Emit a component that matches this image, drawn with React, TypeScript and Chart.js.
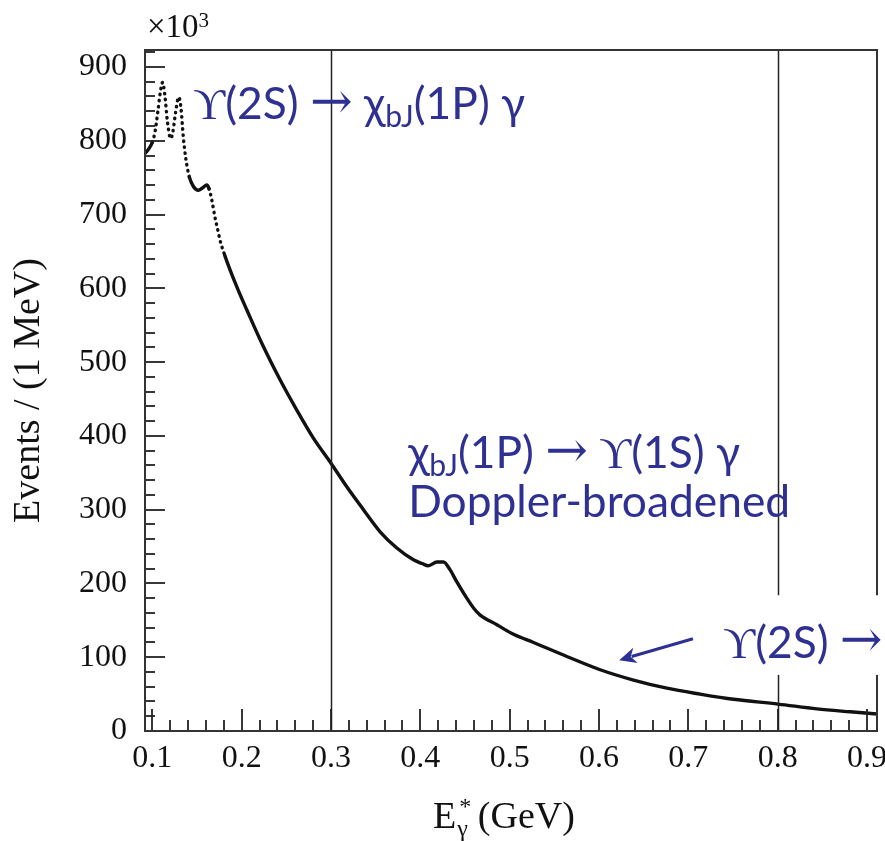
import React, { useEffect, useRef } from "react";
import { Chart, registerables } from "chart.js";

Chart.register(...registerables);

// ---- data ----
const energyGeV = [
  0.092, 0.096, 0.1, 0.103, 0.106, 0.109, 0.1115, 0.114, 0.117, 0.1205,
  0.123, 0.126, 0.1295, 0.132, 0.1347, 0.1377, 0.1414, 0.146, 0.1515, 0.156,
  0.161, 0.1635, 0.1665, 0.17, 0.174, 0.1758, 0.181, 0.187, 0.196, 0.2057,
  0.2243, 0.243, 0.2617, 0.2803, 0.3, 0.3177, 0.3363, 0.355, 0.3737, 0.3923,
  0.402, 0.409, 0.4185, 0.426, 0.433, 0.4409, 0.452, 0.46, 0.467, 0.4857,
  0.5043, 0.5267, 0.564, 0.6013, 0.6386, 0.676, 0.7133, 0.7506, 0.8003, 0.844,
  0.8813, 0.9112,
];
const eventsThousands = [
  783, 789, 798, 812, 838, 866, 879, 862, 825, 803,
  812, 838, 859, 845, 805, 774, 751, 738, 733, 736,
  740, 735, 720, 697, 675, 665, 645, 625, 598, 571,
  521, 476, 435, 397, 363, 331, 300, 270, 248, 232,
  227, 224, 229, 229, 219, 202, 180, 166, 157, 144,
  131, 120, 101, 83, 69, 58, 50, 43, 36.5, 30,
  26, 23,
];
const xMin = 0.0918;
const xMax = 0.9112;
const yMin = 0;
const yMax = 923;
const xMajorStep = 0.1;
const xMinorStep = 0.02;
const yMajorStep = 100;
const yMinorStep = 20;
const markerEnergies = [0.3, 0.8];

const xTitleMain = "E";
const xTitleSup = "*";
const xTitleSub = "γ";
const xTitleUnit = "(GeV)";
const yTitle = "Events / (1 MeV)";
const multiplierBase = "×10";
const multiplierExp = "3";

type Part = { t: string; serif?: boolean; arrow?: boolean; sub?: boolean };
const annotation1: Part[] = [
  { t: "ϒ", serif: true }, { t: "(2S) " }, { t: "→", arrow: true }, { t: " " },
  { t: "χ" }, { t: "bJ", sub: true }, { t: "(1P) " }, { t: "γ" },
];
const annotation2: Part[] = [
  { t: "χ" }, { t: "bJ", sub: true }, { t: "(1P) " }, { t: "→", arrow: true }, { t: " " },
  { t: "ϒ", serif: true }, { t: "(1S) " }, { t: "γ" },
];
const annotation3: Part[] = [{ t: "Doppler-broadened" }];
const annotation4: Part[] = [{ t: "ϒ", serif: true }, { t: "(2S) " }, { t: "→", arrow: true }];
// anchor positions in data coordinates [energy, events]
const annotation1At = [0.1458, 829];
const annotation2At = [0.3864, 356];
const annotation3At = [0.3864, 290];
const annotation4At = [0.739, 99];
const pointerFrom = [0.7052, 125];
const pointerTo = [0.6226, 96];
const maskBox = [0.7245, 76, 184]; // left energy, bottom events, top events

const BLUE = "#2E3192";
const SANS = "Lato, 'Open Sans', 'Noto Sans', sans-serif";
const SERIF = "'Liberation Serif', 'DejaVu Serif', serif";
const ARROWFONT = "'DejaVu Serif', serif";

function partFont(p: Part, size: number) {
  const s = p.sub ? size * 0.68 : p.arrow ? size * 1.15 : size;
  const fam = p.arrow ? ARROWFONT : p.serif ? SERIF : SANS;
  return `${s}px ${fam}`;
}

function drawParts(ctx: CanvasRenderingContext2D, parts: Part[], x: number, base: number, size: number) {
  let cx = x;
  for (const p of parts) {
    ctx.font = partFont(p, size);
    const by = p.sub ? base + size * 0.17 : p.arrow ? base - size * 0.04 : base;
    ctx.fillText(p.t, cx, by);
    cx += ctx.measureText(p.t).width;
  }
}

function drawAxesDecor(chart: any) {
  const { ctx, chartArea: a, scales } = chart;
  const xs = scales.x;
  const ys = scales.y;
  ctx.save();
  ctx.setLineDash([]);
  ctx.lineCap = "butt";
  ctx.strokeStyle = "#222";
  ctx.lineWidth = 1.5;
  for (const e of markerEnergies) {
    const px = Math.round(xs.getPixelForValue(e)) + 0.5;
    ctx.beginPath();
    ctx.moveTo(px, a.top);
    ctx.lineTo(px, a.bottom);
    ctx.stroke();
  }
  ctx.lineWidth = 1.8;
  const nx = Math.round(xMajorStep / xMinorStep);
  const i0 = Math.ceil(xMin / xMinorStep - 1e-6);
  const i1 = Math.floor(xMax / xMinorStep + 1e-6);
  for (let i = i0; i <= i1; i++) {
    const px = Math.round(xs.getPixelForValue(i * xMinorStep));
    const len = i % nx === 0 ? 22 : 11;
    ctx.beginPath();
    ctx.moveTo(px, a.bottom);
    ctx.lineTo(px, a.bottom - len);
    ctx.stroke();
  }
  const ny = Math.round(yMajorStep / yMinorStep);
  const j1 = Math.floor(yMax / yMinorStep);
  for (let j = Math.ceil(yMin / yMinorStep); j <= j1; j++) {
    const py = Math.round(ys.getPixelForValue(j * yMinorStep));
    const len = j % ny === 0 ? 20 : 10;
    ctx.beginPath();
    ctx.moveTo(a.left, py);
    ctx.lineTo(a.left + len, py);
    ctx.stroke();
  }
  ctx.lineWidth = 2;
  ctx.strokeStyle = "#333";
  ctx.strokeRect(a.left, a.top, a.right - a.left, a.bottom - a.top);
  ctx.restore();
}

const decor = {
  id: "decor",
  afterDraw(chart: any) {
    drawAxesDecor(chart);
    const { ctx, chartArea: a, scales, width } = chart;
    const xs = scales.x;
    const ys = scales.y;
    const X = (e: number) => xs.getPixelForValue(e);
    const Y = (v: number) => ys.getPixelForValue(v);
    ctx.save();
    ctx.setLineDash([]);
    // white mask behind the lower-right label
    ctx.fillStyle = "#fff";
    const bl = X(maskBox[0]);
    ctx.fillRect(bl, Y(maskBox[2]), width - bl, Y(maskBox[1]) - Y(maskBox[2]));

    // annotation font size fitted to "Doppler-broadened"
    ctx.font = `100px ${SANS}`;
    const size = Math.min(60, (100 * 382) / ctx.measureText(annotation3[0].t).width);
    ctx.fillStyle = BLUE;
    ctx.textBaseline = "alphabetic";
    ctx.textAlign = "left";
    drawParts(ctx, annotation1, X(annotation1At[0]), Y(annotation1At[1]), size);
    drawParts(ctx, annotation2, X(annotation2At[0]), Y(annotation2At[1]), size);
    drawParts(ctx, annotation3, X(annotation3At[0]), Y(annotation3At[1]), size);
    drawParts(ctx, annotation4, X(annotation4At[0]), Y(annotation4At[1]), size);

    // pointer arrow
    const x0 = X(pointerFrom[0]), y0 = Y(pointerFrom[1]);
    const x1 = X(pointerTo[0]), y1 = Y(pointerTo[1]);
    const ang = Math.atan2(y1 - y0, x1 - x0);
    const headL = 17, headW = 8;
    const bx = x1 - headL * Math.cos(ang), by = y1 - headL * Math.sin(ang);
    ctx.strokeStyle = BLUE;
    ctx.lineWidth = 3;
    ctx.beginPath();
    ctx.moveTo(x0, y0);
    ctx.lineTo(bx + 4 * Math.cos(ang), by + 4 * Math.sin(ang));
    ctx.stroke();
    ctx.beginPath();
    ctx.moveTo(x1, y1);
    ctx.lineTo(bx + headW * Math.sin(ang), by - headW * Math.cos(ang));
    ctx.lineTo(bx + 5 * Math.cos(ang), by + 5 * Math.sin(ang));
    ctx.lineTo(bx - headW * Math.sin(ang), by + headW * Math.cos(ang));
    ctx.closePath();
    ctx.fillStyle = BLUE;
    ctx.fill();

    // x10^3 multiplier
    ctx.fillStyle = "#111";
    ctx.font = `33px ${SERIF}`;
    ctx.fillText(multiplierBase, a.left + 2, 37);
    const mw = ctx.measureText(multiplierBase).width;
    ctx.font = `21px ${SERIF}`;
    ctx.fillText(multiplierExp, a.left + 2 + mw, 27);

    // x-axis title with super/subscript
    const base = 828;
    let cx = (a.left + a.right) / 2 - 78;
    ctx.font = `38px ${SERIF}`;
    ctx.fillText(xTitleMain, cx, base);
    cx += ctx.measureText(xTitleMain).width + 1;
    ctx.font = `24px ${SERIF}`;
    ctx.fillText(xTitleSup, cx + 2, base - 14);
    ctx.fillText(xTitleSub, cx, base + 8);
    cx += ctx.measureText(xTitleSub).width + 10;
    ctx.font = `38px ${SERIF}`;
    ctx.fillText(xTitleUnit, cx, base);
    ctx.restore();
  },
};

export default function App() {
  const ref = useRef<HTMLCanvasElement>(null);
  useEffect(() => {
    const points = energyGeV.map((e, i) => ({ x: e, y: eventsThousands[i] }));
    const chart = new Chart(ref.current as HTMLCanvasElement, {
      type: "line",
      data: {
        datasets: [
          {
            data: points,
            borderColor: "#111",
            borderWidth: 3.4,
            pointRadius: 0,
            cubicInterpolationMode: "monotone",
            borderCapStyle: "round",
            borderJoinStyle: "round",
            segment: {
              borderDash: (c: any) => {
                const dx = Math.abs(c.p1.x - c.p0.x) || 0.001;
                const dy = Math.abs(c.p1.y - c.p0.y);
                return dy / dx > 2.8 ? [0.5, 5.5] : undefined;
              },
            },
          } as any,
        ],
      },
      options: {
        responsive: false,
        animation: false,
        devicePixelRatio: 1,
        layout: { padding: { top: 50, right: 8, left: 0, bottom: 0 } },
        plugins: { legend: { display: false }, tooltip: { enabled: false } },
        scales: {
          x: {
            type: "linear",
            min: xMin,
            max: xMax,
            grid: { display: false },
            border: { display: false },
            ticks: {
              stepSize: xMajorStep,
              includeBounds: false,
              autoSkip: false,
              maxRotation: 0,
              padding: 0,
              color: "#111",
              font: { family: "'Liberation Serif', serif", size: 32 },
              callback: (v: any) => Number(v).toFixed(1),
            } as any,
            afterFit: (s: any) => {
              s.height = 110;
              s.paddingLeft = 0;
              s.paddingRight = 0;
            },
          },
          y: {
            type: "linear",
            min: yMin,
            max: yMax,
            grid: { display: false },
            border: { display: false },
            ticks: {
              stepSize: yMajorStep,
              includeBounds: false,
              padding: 10,
              color: "#111",
              font: { family: "'Liberation Serif', serif", size: 32 },
              callback: (v: any) => (Number(v) % yMajorStep === 0 ? String(v) : ""),
            } as any,
            title: {
              display: true,
              text: yTitle,
              color: "#111",
              font: { family: "'Liberation Serif', serif", size: 38 },
              padding: { top: 6, bottom: 0 },
            },
            afterFit: (s: any) => {
              s.width = 145;
              s.paddingTop = 0;
              s.paddingBottom = 0;
            },
          },
        },
      },
      plugins: [decor],
    });
    return () => chart.destroy();
  }, []);
  return (
    <div style={{ position: "absolute", left: 0, top: 0, width: 885, height: 841, background: "#fff" }}>
      <canvas ref={ref} width={885} height={841} style={{ display: "block" }} />
    </div>
  );
}
